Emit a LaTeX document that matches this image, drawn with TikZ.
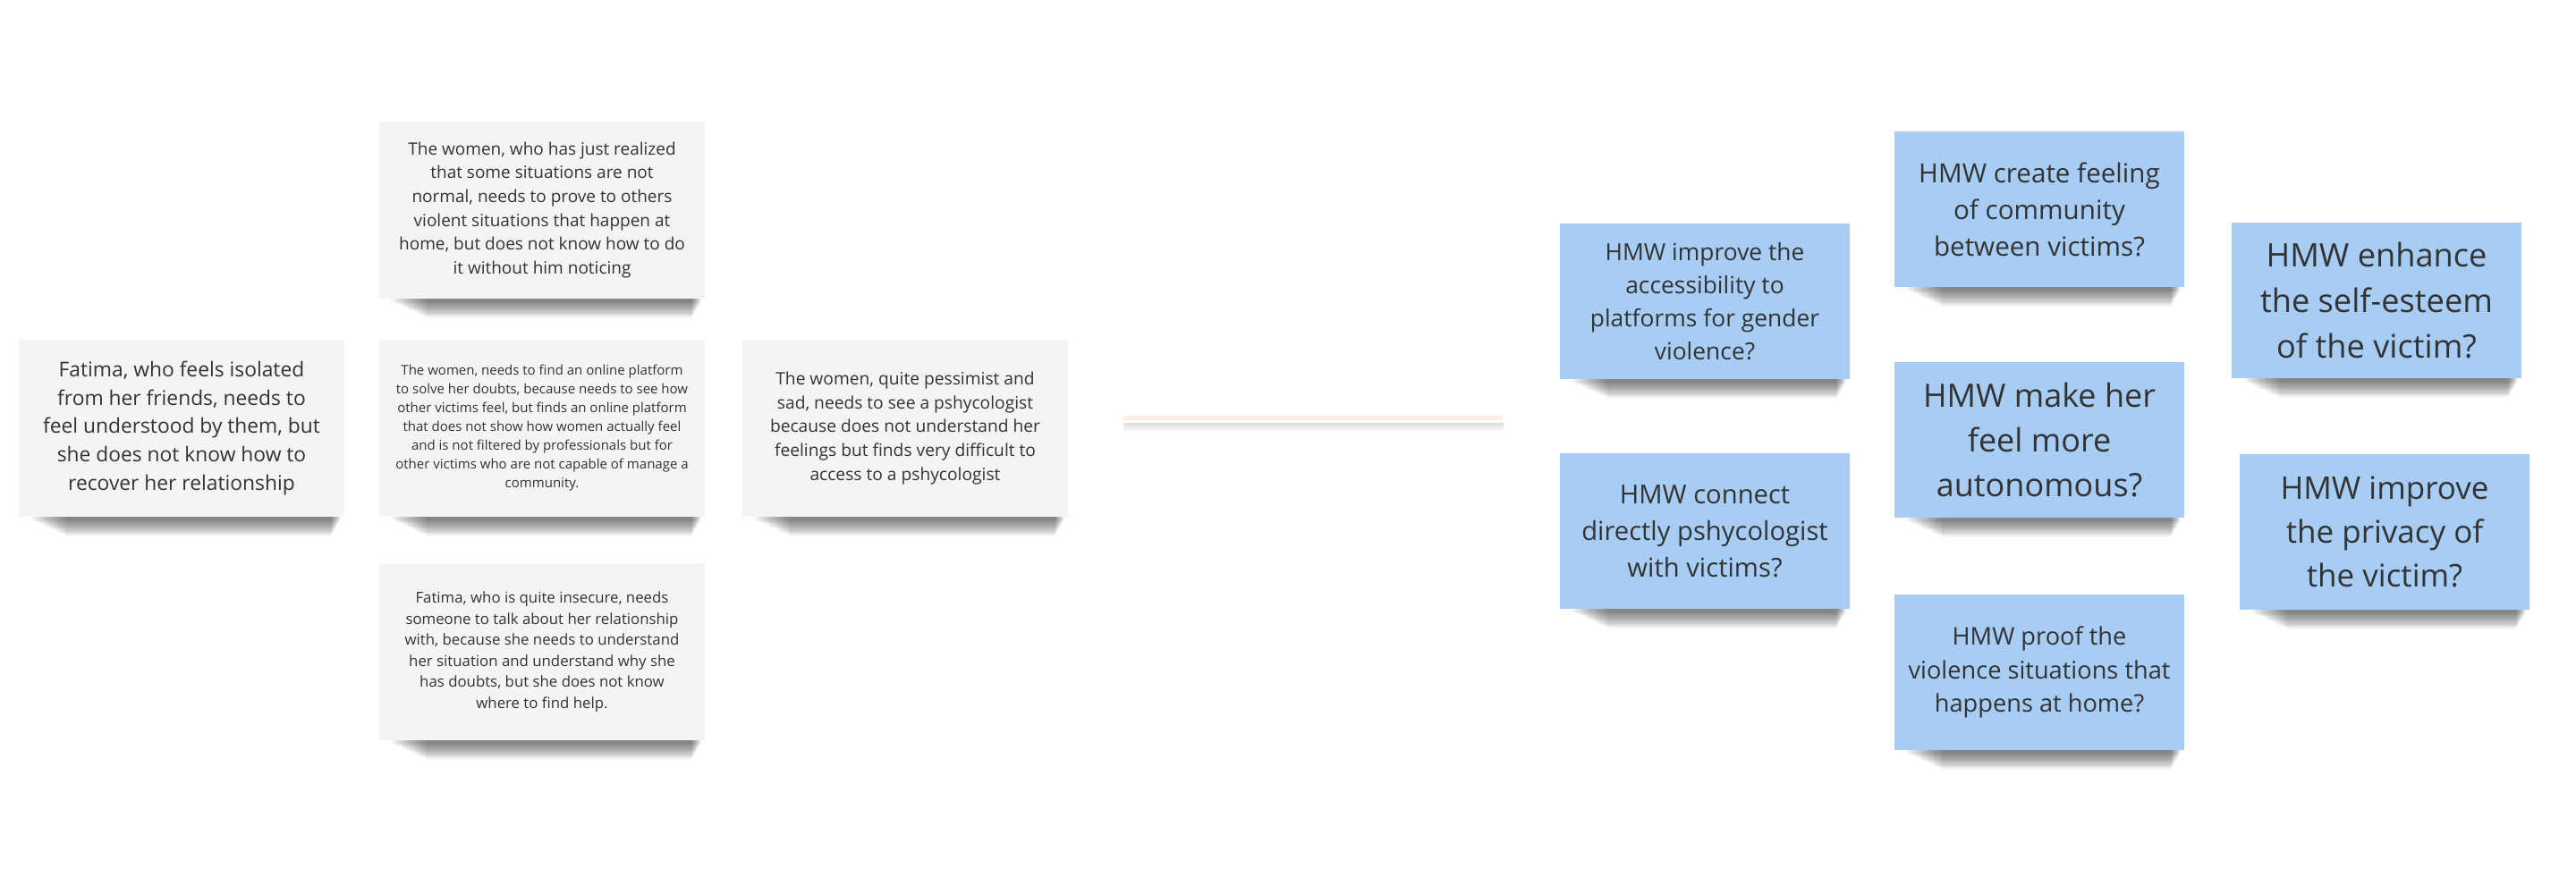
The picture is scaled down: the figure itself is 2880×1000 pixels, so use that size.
\documentclass[tikz,border=0pt]{standalone}
\usepackage{fontspec}
\setmainfont{Open Sans}
\usepackage{tikz}

\definecolor{notegrey}{HTML}{F3F4F6}
\definecolor{noteblue}{HTML}{A7CDF4}
\definecolor{inkgrey}{HTML}{333333}
\definecolor{peach}{HTML}{FDEDE6}

% soft shadow under a note
\newcommand{\noteshadow}[1]{%
  \foreach \s in {1,...,16}
    \fill[black,opacity=0.038] ([xshift={6pt+1.3pt*\s}]#1.south west) rectangle ([xshift={-2pt-0.35pt*\s},yshift={-1pt-0.6pt*\s}]#1.south east);
}

\begin{document}
\begin{tikzpicture}[x=0.5pt,y=-0.5pt]

\tikzset{greynote/.style = {shape=rectangle,fill=notegrey,text=inkgrey,align=center,inner sep=0pt,minimum width=182pt,minimum height=99pt}}
\tikzset{bluenote/.style = {shape=rectangle,fill=noteblue,text=inkgrey,align=center,inner sep=0pt,minimum width=162pt,minimum height=87pt}}
\tikzset{fs/.style 2 args = {font=\fontsize{#1}{#2}\selectfont}}

\useasboundingbox (0,0) rectangle (2880,1000);

% point of view notes
\node[greynote,fs={11.4}{15.85}] (isolated) at (203,479) {Fatima, who feels isolated\\from her friends, needs to\\feel understood by them, but\\she does not know how to\\recover her relationship};
\node[greynote,fs={9.5}{13.35}] (prove) at (606,235) {The women, who has just realized\\that some situations are not\\normal, needs to prove to others\\violent situations that happen at\\home, but does not know how to do\\it without him noticing};
\node[greynote,fs={7.5}{10.5}] (platform) at (606,479) {The women, needs to find an online platform\\to solve her doubts, because needs to see how\\other victims feel, but finds an online platform\\that does not show how women actually feel\\and is not filtered by professionals but for\\other victims who are not capable of manage a\\community.};
\node[greynote,fs={8.4}{11.75}] (talk) at (606,729) {Fatima, who is quite insecure, needs\\someone to talk about her relationship\\with, because she needs to understand\\her situation and understand why she\\has doubts, but she does not know\\where to find help.};
\node[greynote,fs={9.6}{13.45}] (pessimist) at (1012,479) {The women, quite pessimist and\\sad, needs to see a pshycologist\\because does not understand her\\feelings but finds very difficult to\\access to a pshycologist};

% divider
\node[shape=rectangle,fill=peach,draw=white,line width=1.5pt,inner sep=0pt,minimum width=214pt,minimum height=4pt] (divider) at (1467,467) {};

% hmw notes
\node[bluenote,fs={13.2}{18.5}] (access) at (1906,337) {HMW improve the\\accessibility to\\platforms for gender\\violence?};
\node[bluenote,fs={14.6}{20.5}] (connect) at (1906,594) {HMW connect\\directly pshycologist\\with victims?};
\node[bluenote,fs={14.8}{20.5}] (community) at (2280,234) {HMW create feeling\\of community\\between victims?};
\node[bluenote,fs={18}{25}] (autonomy) at (2280,492) {HMW make her\\feel more\\autonomous?};
\node[bluenote,fs={13.6}{18.9}] (proof) at (2280,752) {HMW proof the\\violence situations that\\happens at home?};
\node[bluenote,fs={18.1}{25.3}] (esteem) at (2657,336) {HMW enhance\\the self-esteem\\of the victim?};
\node[bluenote,fs={17.5}{24.5}] (privacy) at (2666,595) {HMW improve\\the privacy of\\the victim?};

% shadows
\noteshadow{isolated}
\noteshadow{prove}
\noteshadow{platform}
\noteshadow{talk}
\noteshadow{pessimist}
\foreach \s in {1,...,4}
  \fill[black,opacity=0.035] ([xshift=2pt]divider.south west) rectangle ([xshift=-1pt,yshift={-1.2pt*\s}]divider.south east);
\noteshadow{access}
\noteshadow{connect}
\noteshadow{community}
\noteshadow{autonomy}
\noteshadow{proof}
\noteshadow{esteem}
\noteshadow{privacy}
\end{tikzpicture}
\end{document}
